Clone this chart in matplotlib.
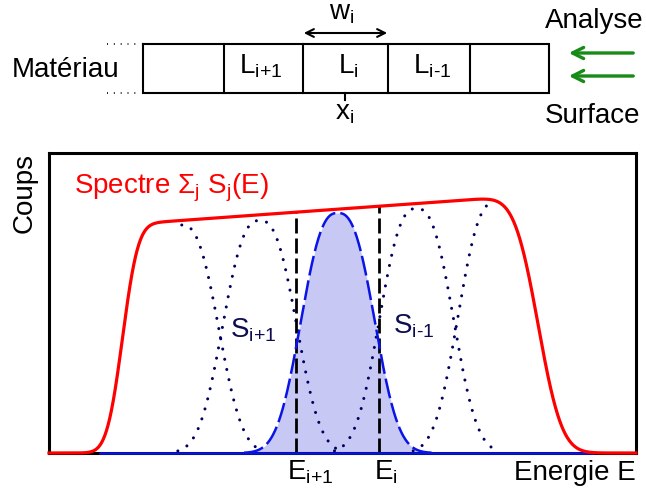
import math
import numpy as np
import matplotlib.pyplot as plt

plt.rcParams['font.family'] = ['Liberation Sans', 'DejaVu Sans']
plt.rcParams['mathtext.fontset'] = 'custom'
plt.rcParams['mathtext.rm'] = 'Liberation Sans'
plt.rcParams['mathtext.it'] = 'Liberation Sans'

# peaks S_{i+2} .. S_{i-2} (energy in arbitrary units 0-100, counts 0-1)
peak_labels = ['S_i+2', 'S_i+1', 'S_i', 'S_i-1', 'S_i-2']
peak_centers = [22.6, 35.9, 49.2, 62.6, 76.0]
peak_heights = [0.76, 0.775, 0.80, 0.815, 0.835]
peak_width = 7.67
peak_shape = 2.6

# total spectrum: two edges and a sloped plateau
edge_centers = [12.5, 83.3]
edge_sigmas = [2.1, 3.2]
plateau_x = [18.9, 73.4]
plateau_y = [0.77, 0.847]

# energies bounding layer i
E_lines = [42.1, 56.2]
baseline_span = [8.7, 92.7]

x = np.linspace(0, 100, 1500)
erf = np.vectorize(math.erf)


def bump(c, h):
    return h * np.exp(-(np.abs(x - c) / peak_width) ** peak_shape)


slope = (plateau_y[1] - plateau_y[0]) / (plateau_x[1] - plateau_x[0])
plateau = plateau_y[0] + slope * (x - plateau_x[0])
rise = 0.5 * (1 + erf((x - edge_centers[0]) / (math.sqrt(2) * edge_sigmas[0])))
fall = 0.5 * (1 - erf((x - edge_centers[1]) / (math.sqrt(2) * edge_sigmas[1])))
spectrum = plateau * rise * fall

fig = plt.figure(figsize=(6.46, 4.93), dpi=100)

# top drawing in pixel coordinates
ax0 = fig.add_axes([0, 0, 1, 1])
ax0.set_xlim(0, 646)
ax0.set_ylim(493, 0)
ax0.axis('off')

cells = [143, 224, 303, 388, 470, 549]
ax0.plot([cells[0], cells[-1], cells[-1], cells[0], cells[0]], [44, 44, 93, 93, 44],
         color='black', lw=1.5, solid_joinstyle='miter')
for cx in cells[1:-1]:
    ax0.plot([cx, cx], [44, 93], color='black', lw=1.5)
for yy in [44, 93]:
    ax0.plot([107, 141], [yy, yy], color='black', lw=1.2, linestyle=(0, (0.6, 3.5)))
ax0.plot([345, 345], [93, 100], color='black', lw=1.5)

ax0.annotate('', xy=(301, 33), xytext=(390, 33),
             arrowprops=dict(arrowstyle='<->', color='black', lw=1.5, mutation_scale=14))
for yy in [53, 76]:
    ax0.annotate('', xy=(566, yy), xytext=(636, yy),
                 arrowprops=dict(arrowstyle='->', color='#178a17', lw=2.4, mutation_scale=20))

fs = 20
ax0.text(342, 19, r'w$_\text{i}$', fontsize=fs, ha='center', va='baseline')
ax0.text(644, 28, 'Analyse', fontsize=fs, ha='right', va='baseline')
ax0.text(12, 77, 'Matériau', fontsize=fs, ha='left', va='baseline')
ax0.text(261, 73, r'L$_\text{i+1}$', fontsize=fs, ha='center', va='baseline')
ax0.text(348, 73, r'L$_\text{i}$', fontsize=fs, ha='center', va='baseline')
ax0.text(432, 73, r'L$_\text{i-1}$', fontsize=fs, ha='center', va='baseline')
ax0.text(345, 120, r'x$_\text{i}$', fontsize=fs, ha='center', va='baseline')
ax0.text(545, 123, 'Surface', fontsize=fs, ha='left', va='baseline')
ax0.text(25, 193, 'Coups', fontsize=fs, ha='center', va='center', rotation=90)
ax0.text(74, 193, r'Spectre $\Sigma_\text{j}$ S$_\text{j}$(E)', fontsize=fs,
         color='red', ha='left', va='baseline')
ax0.text(230, 337, r'S$_\text{i+1}$', fontsize=fs, color='#0d0d50', ha='left', va='baseline')
ax0.text(306, 308, r'S$_\text{i}$(E)', fontsize=fs, color='#1a1a8a', ha='left', va='baseline')
ax0.text(393, 333, r'S$_\text{i-1}$', fontsize=fs, color='#0d0d50', ha='left', va='baseline')
ax0.text(287, 480, r'E$_\text{i+1}$', fontsize=fs, ha='left', va='baseline')
ax0.text(374, 480, r'E$_\text{i}$', fontsize=fs, ha='left', va='baseline')
ax0.text(636, 480, 'Energie E', fontsize=fs, ha='right', va='baseline')

# spectrum panel
ax = fig.add_axes([49 / 646, 40 / 493, 587 / 646, 300 / 493])
ax.set_facecolor('none')
ax.set_xlim(0, 100)
ax.set_ylim(0, 1)
ax.set_xticks([])
ax.set_yticks([])
for s in ax.spines.values():
    s.set_linewidth(2.2)
    s.set_color('black')

si = bump(peak_centers[2], peak_heights[2])
ax.fill_between(x, si, color='#c8c8f4', lw=0, zorder=1)

dot_style = dict(color='#000060', lw=2.2, linestyle=(0, (0.01, 3.4)),
                 dash_capstyle='round', clip_on=False, zorder=2)
reach = 14
for k in [0, 1, 3, 4]:
    c = peak_centers[k]
    lo, hi = c - reach, c + reach
    if k == 0:
        lo = c
    if k == 4:
        hi = c
    m = (x >= lo) & (x <= hi)
    ax.plot(x[m], bump(c, peak_heights[k])[m], **dot_style)

for e in E_lines:
    top = np.interp(e, x, spectrum)
    ax.plot([e, e], [0, top], color='black', lw=2, linestyle=(0, (5.4, 1.8)), zorder=3)

ax.plot(baseline_span, [0, 0], color='#0a14e6', lw=1.8, clip_on=False, zorder=4)
m = np.abs(x - peak_centers[2]) < 16
ax.plot(x[m], si[m], color='#0a14e6', lw=1.8, linestyle=(0, (8, 2)), clip_on=False, zorder=4)

ax.plot(x, spectrum, color='red', lw=2.3, clip_on=False, zorder=5)

fig.savefig('out.png', dpi=100)
